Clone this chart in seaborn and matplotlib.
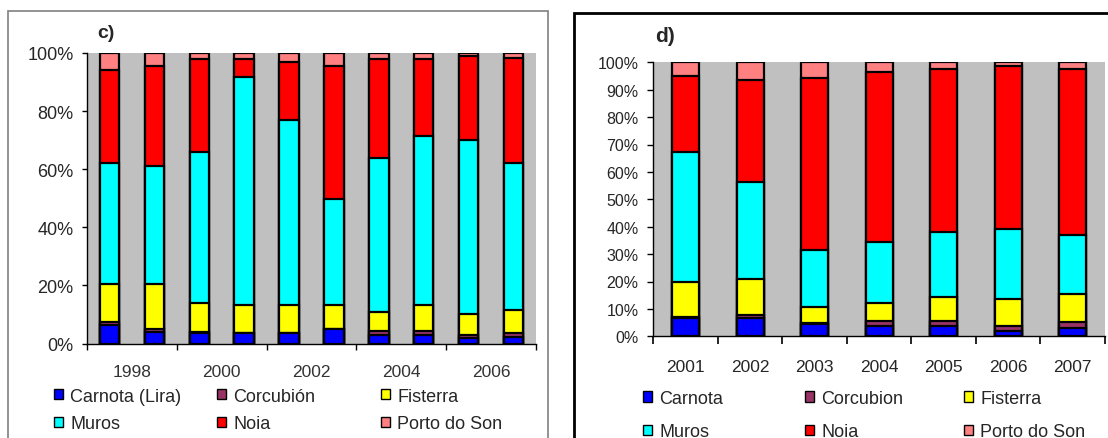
import numpy as np
import pandas as pd
import matplotlib
matplotlib.use("Agg")
import matplotlib.pyplot as plt
from matplotlib.patches import Rectangle, Patch
from matplotlib import font_manager
import seaborn as sns

# ---------------- data ----------------
colors = ["#0000FF", "#993366", "#FFFF00", "#00FFFF", "#FF0000", "#FF8080"]

c_series = ["Carnota (Lira)", "Corcubión", "Fisterra", "Muros", "Noia", "Porto do Son"]
c_years = [str(y) for y in range(1997, 2007)]
c_tick_labels = ["1998", "2000", "2002", "2004", "2006"]
c_carnota = [6.4, 4.1, 3.5, 3.5, 3.5, 4.9, 2.8, 2.8, 2.0, 2.1]
c_corcubion = [1.1, 0.9, 0.3, 0.2, 0.2, 0.2, 1.5, 1.5, 0.9, 1.5]
c_fisterra = [13.0, 15.5, 10.0, 9.4, 9.4, 8.0, 6.5, 8.8, 7.3, 7.9]
c_muros = [41.7, 40.6, 52.1, 78.5, 63.8, 36.8, 53.1, 58.3, 60.0, 50.7]
c_noia = [31.9, 34.3, 31.9, 6.2, 20.1, 45.5, 33.9, 26.4, 28.9, 36.2]
c_porto = [5.9, 4.6, 2.2, 2.2, 3.0, 4.6, 2.2, 2.2, 0.9, 1.6]

d_series = ["Carnota", "Corcubion", "Fisterra", "Muros", "Noia", "Porto do Son"]
d_years = ["2001", "2002", "2003", "2004", "2005", "2006", "2007"]
d_carnota = [6.8, 6.7, 4.5, 3.6, 3.6, 2.1, 2.9]
d_corcubion = [0.4, 1.2, 0.2, 1.9, 1.9, 1.7, 2.3]
d_fisterra = [12.7, 12.9, 6.0, 6.8, 9.0, 9.9, 10.2]
d_muros = [47.3, 35.6, 20.9, 22.2, 23.5, 25.6, 21.6]
d_noia = [27.8, 37.0, 62.7, 62.0, 59.4, 59.4, 60.4]
d_porto = [5.0, 6.6, 5.7, 3.5, 2.6, 1.3, 2.6]

# ---------------- figure ----------------
W, H = 1108, 439
sns.set_theme(style="white")
plt.rcParams['font.family'] = ['Liberation Sans', 'DejaVu Sans']
fig = plt.figure(figsize=(W / 100, H / 100), dpi=100)


def fx(px):
    return px / W


def fy(py):
    return 1 - py / H


def stacked(ax, years, names, vals, width):
    rows = []
    for name, v in zip(names, vals):
        for y, val in zip(years, v):
            rows.append({"year": y, "series": name, "value": val})
    df = pd.DataFrame(rows)
    tot = df.groupby("year")["value"].transform("sum")
    df["pct"] = df["value"] / tot * 100
    df["order"] = df["series"].map({n: i for i, n in enumerate(names)})
    df = df.sort_values(["year", "order"])
    df["top"] = df.groupby("year")["pct"].cumsum()
    for i in reversed(range(len(names))):
        sub = df[df["series"] == names[i]]
        sns.barplot(data=sub, x="year", y="top", order=years, color=colors[i],
                    saturation=1, edgecolor="black", linewidth=1.6, width=width,
                    errorbar=None, ax=ax)
    ax.set_facecolor("#C0C0C0")
    ax.set_ylim(0, 100)
    ax.set_xlim(-0.5, len(years) - 0.5)
    ax.set_xlabel("")
    ax.set_ylabel("")
    for s in ["top", "right"]:
        ax.spines[s].set_visible(False)
    for s in ["left", "bottom"]:
        ax.spines[s].set_color("black")
        ax.spines[s].set_linewidth(1.0)


# ---- panel c ----
axc = fig.add_axes([fx(87), fy(344.5), fx(536) - fx(87), fy(54) - fy(344.5)])
stacked(axc, c_years, c_series,
        [c_carnota, c_corcubion, c_fisterra, c_muros, c_noia, c_porto], 0.43)
axc.set_yticks(np.arange(0, 101, 20))
axc.set_yticklabels([f"{v}%" for v in range(0, 101, 20)], fontsize=13)
axc.tick_params(axis="y", length=3.8, width=1, color="black", pad=6, left=True)
axc.set_xticks(np.arange(-0.5, len(c_years), 1.0), minor=True)
axc.set_xticks(np.arange(0.5, len(c_years), 2.0))
axc.set_xticklabels(c_tick_labels, fontsize=12.5, color="#333333")
axc.tick_params(axis="x", which="minor", length=4, width=1, color="black", bottom=True)
axc.tick_params(axis="x", which="major", length=0, pad=15)
fig.text(fx(97), fy(33), "c)", fontsize=14, fontweight="bold", va="center", ha="left")

# ---- panel d ----
axd = fig.add_axes([fx(653.3), fy(337.3), fx(1105) - fx(653.3), fy(63.3) - fy(337.3)])
stacked(axd, d_years, d_series,
        [d_carnota, d_corcubion, d_fisterra, d_muros, d_noia, d_porto], 0.42)
axd.set_yticks(np.arange(0, 101, 10))
axd.set_yticklabels([f"{v}%" for v in range(0, 101, 10)], fontsize=11.5)
axd.tick_params(axis="y", length=4.3, width=1, color="black", pad=6.3, left=True)
axd.set_xticks(np.arange(-0.5, len(d_years), 1.0), minor=True)
axd.set_xticks(np.arange(0, len(d_years)))
axd.set_xticklabels(d_years, fontsize=12.5)
axd.tick_params(axis="x", which="minor", length=5.5, width=1.2, color="black", bottom=True)
axd.tick_params(axis="x", which="major", length=0, pad=16)
fig.text(fx(655), fy(37), "d)", fontsize=15, fontweight="bold", va="center", ha="left")

# ---- panel frames ----
fig.add_artist(Rectangle((fx(8), fy(445)), fx(548) - fx(8), fy(12) - fy(445),
                         transform=fig.transFigure, fill=False, edgecolor="#808080",
                         linewidth=1.2, clip_on=False))
fig.add_artist(Rectangle((fx(574), fy(445)), fx(1120) - fx(574), fy(14) - fy(445),
                         transform=fig.transFigure, fill=False, edgecolor="black",
                         linewidth=2.0, clip_on=False))


# ---- legends ----
def col_legend(names, idx, x_px, y_mid_px, fs, spacing):
    handles = [Patch(facecolor=colors[i], edgecolor="black", linewidth=1.0) for i in idx]
    fig.legend(handles, [names[i] for i in idx], loc="center left",
               bbox_to_anchor=(fx(x_px), fy(y_mid_px)), frameon=False,
               borderpad=0, borderaxespad=0, handlelength=0.5, handleheight=0.5,
               handletextpad=0.4, labelspacing=spacing, fontsize=fs)


for col, xp in enumerate([54, 217, 381]):
    col_legend(c_series, [col, col + 3], xp, 411, 13, 0.6)
for col, xp in enumerate([643, 805, 964]):
    col_legend(d_series, [col, col + 3], xp, 416, 13, 0.9)

fig.savefig("out.png", dpi=100)
